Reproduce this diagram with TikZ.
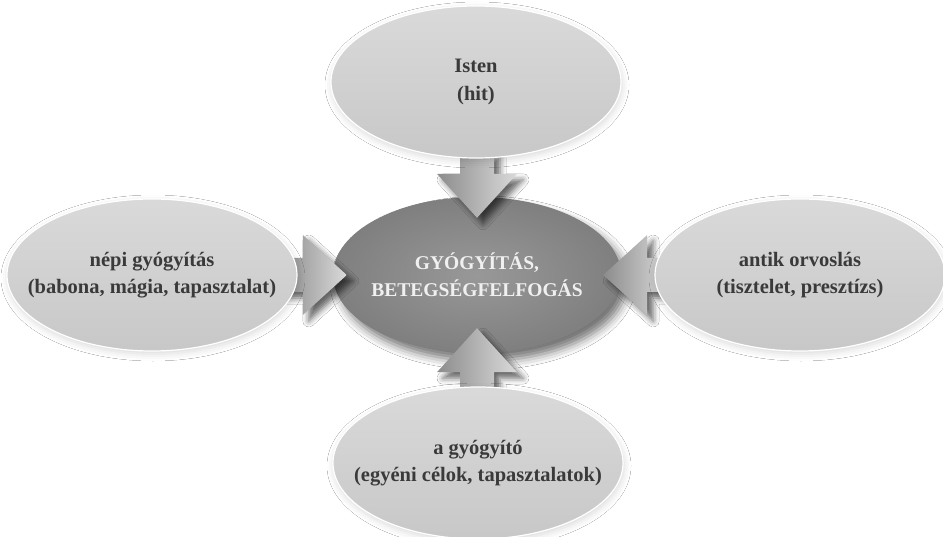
\documentclass[tikz,border=0pt]{standalone}
\usepackage{fontspec}
\setmainfont{Liberation Serif}
\usetikzlibrary{shapes.geometric,shadows,shadows.blur,calc}
\definecolor{outerfill}{HTML}{D0D0D0}
\definecolor{corefill}{HTML}{8A8A8A}
\definecolor{textdark}{HTML}{3A3A3A}
\definecolor{arrowlight}{HTML}{DADADA}
\definecolor{arrowdark}{HTML}{8C8C8C}
\tikzset{
  outershape/.style={ellipse, top color=outerfill!80!white, bottom color=outerfill!96!black,
    draw=white, line width=1.2pt, inner sep=0pt, minimum width=290pt, minimum height=152pt,
    blur shadow={shadow xshift=1pt, shadow yshift=-3pt, shadow blur radius=7pt, shadow opacity=15}},
  outertext/.style={inner sep=0pt, font=\bfseries\fontsize{20.5}{27.5}\selectfont,
    text=textdark, align=center},
  coreshape/.style={ellipse, inner color=corefill!88!white, outer color=corefill!92!black,
    draw=none, inner sep=0pt, minimum width=288pt, minimum height=156pt,
    blur shadow={shadow xshift=6pt, shadow yshift=-8pt, shadow blur radius=9pt, shadow opacity=55}},
  coretext/.style={inner sep=0pt, font=\bfseries\fontsize{19.5}{27}\selectfont,
    text=white!94!black, align=center},
  arrowbody/.style={left color=arrowdark, right color=arrowlight, draw=none,
    blur shadow={shadow xshift=6pt, shadow yshift=-6pt, shadow blur radius=6pt, shadow opacity=60}},
  blockarrow/.pic={
    \path[arrowbody] (0,0) -- (-44,-40) -- (-44,-17) -- (-66,-17) -- (-66,17)
      -- (-44,17) -- (-44,40) -- cycle;
  }
}
\begin{document}
\begin{tikzpicture}[x=1pt,y=-1pt]
\useasboundingbox (0,0) rectangle (943,537);
\fill[white] (0,0) rectangle (943,537);
% centre
\node[coreshape] (core) at (477,275) {};
\node[coretext] (core-t) at (core.center) {GYÓGYÍTÁS,\\BETEGSÉGFELFOGÁS};
% arrows pointing to the centre
\pic[rotate=-90] at ($(core.north)+(0,21)$) {blockarrow};
\pic[rotate=0]   at ($(core.west)+(14,0)$)  {blockarrow};
\pic[rotate=180] at ($(core.east)+(-18,0)$) {blockarrow};
\pic[rotate=90]  at ($(core.south)+(0,-25)$) {blockarrow};
% outer ellipses
\node[outershape] (god)    at (476,82)  {};
\node[outershape] (folk)   at (152,275) {};
\node[outershape] (antik)  at (800,275) {};
\node[outershape] (healer) at (478,463) {};
\node[outertext] (god-t)    at (god.center)    {Isten\\(hit)};
\node[outertext] (folk-t)   at (folk.center)   {népi gyógyítás\\(babona, mágia, tapasztalat)};
\node[outertext] (antik-t)  at (antik.center)  {antik orvoslás\\(tisztelet, presztízs)};
\node[outertext] (healer-t) at (healer.center) {a gyógyító\\(egyéni célok, tapasztalatok)};
\end{tikzpicture}
\end{document}
